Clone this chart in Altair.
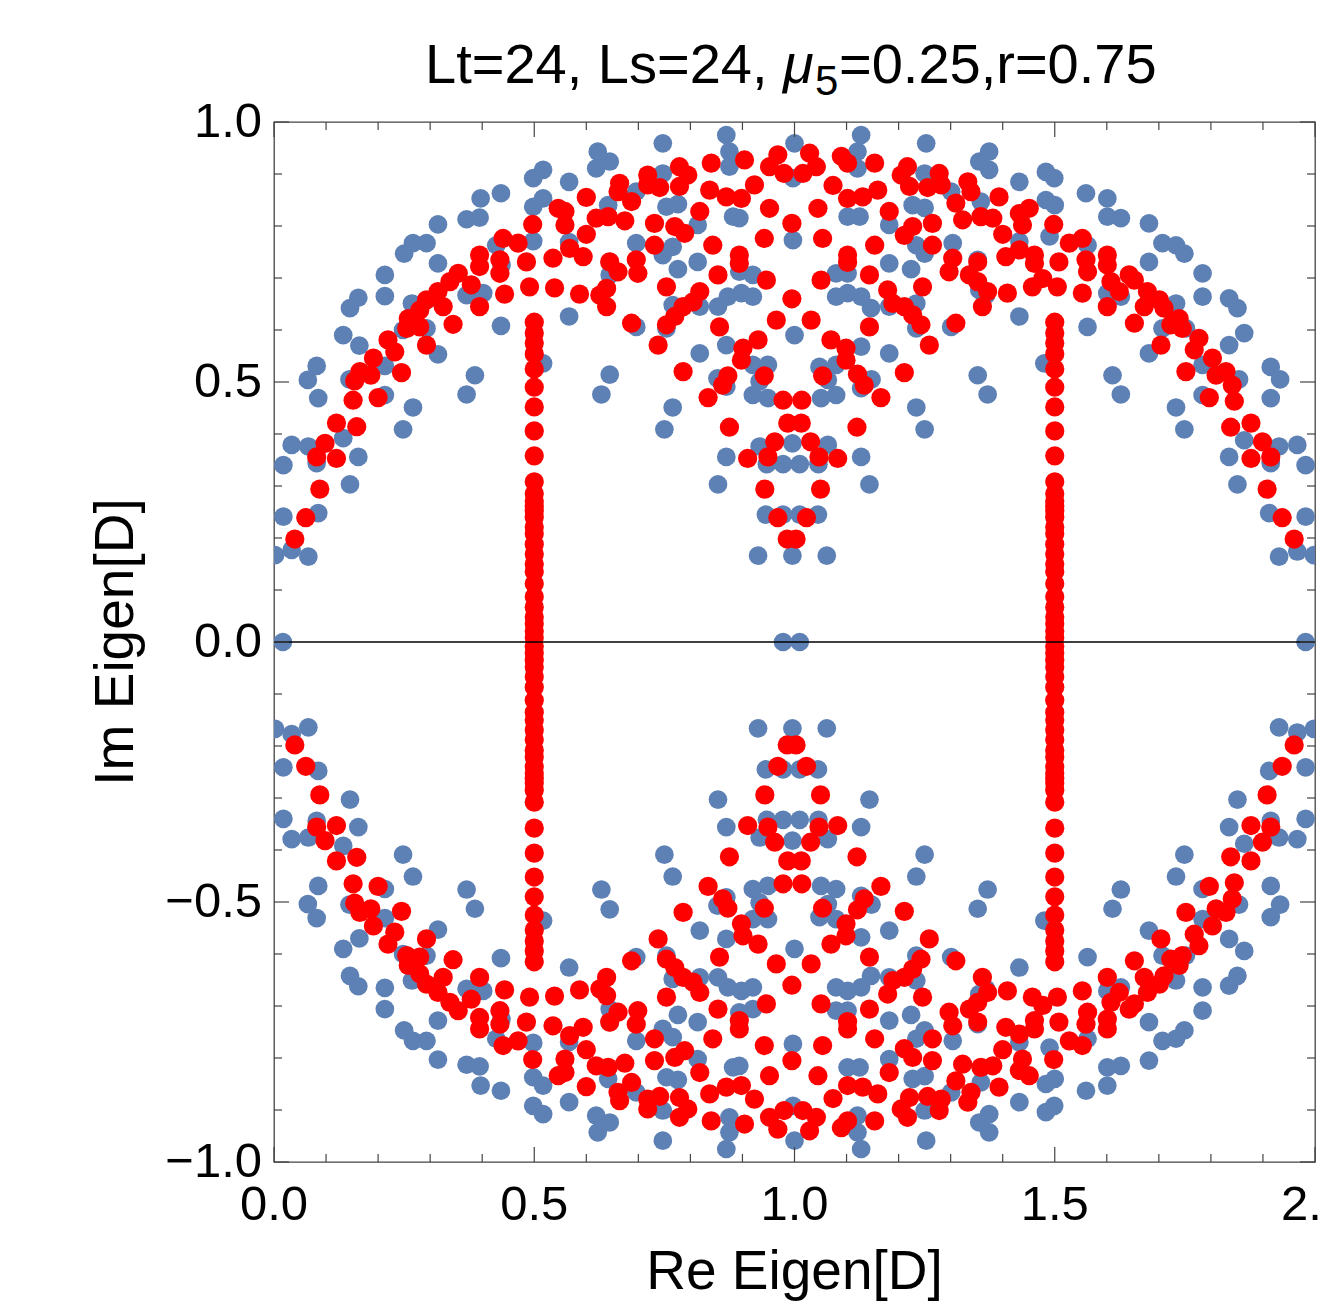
import altair as alt
import pandas as pd

# ---------------- data (upper half, Im >= 0; spectrum is conjugate-symmetric) ----------------
blue_upper = [
    (0.498, 0.892), (0.436, 0.863), (0.397, 0.853), (0.370, 0.813), (0.395, 0.816), (0.498, 0.837),
    (0.315, 0.803), (0.267, 0.767), (0.293, 0.767), (0.250, 0.747), (0.315, 0.728), (0.213, 0.706),
    (0.213, 0.665), (0.162, 0.662), (0.146, 0.642), (0.265, 0.651), (0.370, 0.667), (0.402, 0.671),
    (0.437, 0.725), (0.427, 0.763), (0.133, 0.590), (0.164, 0.570), (0.248, 0.600), (0.293, 0.603),
    (0.315, 0.553), (0.436, 0.608), (0.082, 0.531), (0.065, 0.504), (0.145, 0.505), (0.386, 0.513),
    (0.498, 0.771), (0.213, 0.531), (0.085, 0.469), (0.213, 0.475), (0.267, 0.451), (0.248, 0.409),
    (0.370, 0.476), (0.034, 0.379), (0.066, 0.376), (0.018, 0.340), (0.082, 0.344), (0.133, 0.392),
    (0.162, 0.356), (0.146, 0.303), (0.018, 0.241), (0.085, 0.248), (0.002, 0.167), (0.034, 0.177),
    (0.066, 0.164), (0.017, 0.0),
    (0.869, 0.975), (0.747, 0.959), (0.622, 0.943), (0.645, 0.924), (0.619, 0.911), (0.517, 0.908),
    (1.000, 0.959), (0.875, 0.943), (0.875, 0.914), (0.567, 0.885), (0.747, 0.901), (0.696, 0.866),
    (0.517, 0.853), (0.642, 0.840), (0.754, 0.837), (0.776, 0.842), (0.882, 0.818), (0.894, 0.815),
    (0.814, 0.802), (0.997, 0.773), (0.696, 0.767), (0.766, 0.760), (0.747, 0.744), (0.814, 0.731),
    (0.776, 0.717), (0.645, 0.731), (0.645, 0.706), (0.567, 0.769), (0.567, 0.626), (0.894, 0.712),
    (0.920, 0.706), (0.872, 0.664), (0.898, 0.671), (0.920, 0.664), (0.853, 0.645), (0.766, 0.648),
    (0.818, 0.645), (0.629, 0.667), (0.696, 0.606), (0.754, 0.603), (1.000, 0.590), (0.818, 0.555),
    (0.869, 0.571), (0.645, 0.514), (0.517, 0.536), (0.949, 0.533), (0.920, 0.533), (0.852, 0.507),
    (0.629, 0.476), (0.766, 0.451), (0.750, 0.409), (0.869, 0.491), (0.920, 0.475), (0.949, 0.469),
    (0.933, 0.501), (0.869, 0.356), (0.853, 0.303), (0.933, 0.376), (0.996, 0.382), (1.064, 0.379),
    (0.947, 0.342), (0.978, 0.342), (1.010, 0.342), (1.046, 0.342),
    (0.945, 0.245), (0.978, 0.245), (1.010, 0.245), (1.045, 0.245),
    (0.930, 0.166), (0.996, 0.166), (1.062, 0.166),
    (0.978, 0.0), (1.010, 0.0),
    (1.128, 0.975), (1.253, 0.959), (1.121, 0.943), (1.374, 0.943), (1.355, 0.924), (1.374, 0.908),
    (1.121, 0.911), (1.483, 0.904), (1.499, 0.892), (1.432, 0.885), (1.250, 0.901), (0.997, 0.892),
    (1.301, 0.866), (1.483, 0.850), (1.500, 0.840), (1.358, 0.847), (1.227, 0.840), (1.250, 0.835),
    (1.102, 0.818), (1.125, 0.818), (1.182, 0.802), (1.490, 0.780), (1.234, 0.763), (1.250, 0.747),
    (1.304, 0.767), (1.432, 0.770), (1.182, 0.728), (1.224, 0.717), (1.080, 0.709), (1.102, 0.709),
    (1.352, 0.735), (1.355, 0.677), (1.368, 0.667), (1.080, 0.664), (1.102, 0.671), (1.128, 0.664),
    (1.147, 0.642), (1.182, 0.645), (1.234, 0.651), (1.432, 0.626), (1.301, 0.606), (1.234, 0.603),
    (1.128, 0.568), (1.182, 0.555), (1.048, 0.529), (1.080, 0.533), (1.148, 0.505), (1.352, 0.513),
    (1.480, 0.536),
    (1.064, 0.504), (1.080, 0.475), (1.051, 0.469), (1.128, 0.488), (1.234, 0.451), (1.250, 0.409),
    (1.371, 0.476), (1.128, 0.356), (1.144, 0.303),
    (1.560, 0.863), (1.601, 0.853), (1.601, 0.818), (1.627, 0.815), (1.681, 0.805), (1.707, 0.767),
    (1.733, 0.763), (1.749, 0.747), (1.681, 0.731), (1.563, 0.763), (1.784, 0.709), (1.784, 0.664),
    (1.835, 0.661), (1.851, 0.642), (1.601, 0.671), (1.627, 0.664), (1.733, 0.651), (1.563, 0.606),
    (1.707, 0.603), (1.752, 0.603), (1.864, 0.594), (1.835, 0.571), (1.681, 0.555), (1.784, 0.533),
    (1.915, 0.529), (1.933, 0.505), (1.611, 0.513), (1.854, 0.505),
    (1.627, 0.476), (1.733, 0.451), (1.749, 0.409), (1.784, 0.475), (1.915, 0.469), (1.864, 0.388),
    (1.835, 0.356), (1.851, 0.303), (1.931, 0.376), (1.966, 0.379), (1.915, 0.344), (1.982, 0.340),
    (1.912, 0.248), (1.982, 0.241), (1.931, 0.164), (1.966, 0.174), (1.998, 0.167), (1.982, 0.0),
]

red_upper = [
    (0.497, 0.803), (0.440, 0.776), (0.469, 0.767), (0.395, 0.744), (0.434, 0.735), (0.485, 0.731),
    (0.395, 0.722), (0.434, 0.709), (0.354, 0.709), (0.338, 0.693), (0.379, 0.687), (0.491, 0.683),
    (0.443, 0.669), (0.315, 0.674), (0.293, 0.658), (0.325, 0.645), (0.395, 0.645), (0.280, 0.638),
    (0.258, 0.622), (0.255, 0.603), (0.280, 0.606), (0.344, 0.611), (0.293, 0.571), (0.219, 0.581),
    (0.232, 0.558), (0.191, 0.546), (0.165, 0.520), (0.186, 0.513), (0.245, 0.518), (0.155, 0.502),
    (0.152, 0.465), (0.200, 0.470), (0.120, 0.421), (0.159, 0.414), (0.098, 0.382), (0.082, 0.356),
    (0.120, 0.353), (0.088, 0.294), (0.061, 0.239), (0.040, 0.198),
    (0.840, 0.921), (0.904, 0.927), (0.968, 0.937), (0.980, 0.901), (0.952, 0.914), (0.779, 0.914),
    (0.795, 0.898), (0.718, 0.898), (0.718, 0.879), (0.741, 0.874), (0.779, 0.876), (0.664, 0.882),
    (0.661, 0.866), (0.687, 0.847), (0.600, 0.855), (0.837, 0.869), (0.869, 0.856), (0.898, 0.853),
    (0.923, 0.879), (0.952, 0.834), (0.818, 0.828), (0.546, 0.834), (0.559, 0.828), (0.559, 0.802),
    (0.619, 0.815), (0.642, 0.818), (0.674, 0.810), (0.731, 0.805), (0.770, 0.799), (0.789, 0.786),
    (0.600, 0.784), (0.731, 0.763), (0.995, 0.805), (0.942, 0.776), (0.843, 0.763), (0.568, 0.757),
    (0.536, 0.738), (0.594, 0.741), (0.645, 0.731), (0.696, 0.735), (0.699, 0.709), (0.661, 0.712),
    (0.894, 0.744), (0.894, 0.728), (0.853, 0.706), (0.946, 0.696), (0.754, 0.683), (0.818, 0.674),
    (0.805, 0.654), (0.786, 0.645), (0.770, 0.626), (0.754, 0.610), (0.539, 0.681), (0.587, 0.669),
    (0.639, 0.680), (0.626, 0.667), (0.639, 0.645), (0.995, 0.660), (0.965, 0.619), (0.856, 0.606),
    (0.687, 0.613), (0.738, 0.571), (0.930, 0.581), (0.901, 0.565), (0.898, 0.542), (0.872, 0.512),
    (0.786, 0.520), (0.942, 0.512),
    (0.862, 0.494), (0.834, 0.470), (0.978, 0.465), (1.014, 0.465), (0.875, 0.413), (0.987, 0.421),
    (1.013, 0.421), (0.962, 0.385), (0.949, 0.356), (0.910, 0.353), (0.943, 0.294), (0.968, 0.239),
    (0.986, 0.198), (1.003, 0.198),
    (1.054, 0.512), (1.121, 0.515), (1.134, 0.494), (1.211, 0.518), (1.166, 0.470), (1.120, 0.413),
    (1.031, 0.385), (1.047, 0.356), (1.083, 0.353), (1.050, 0.294), (1.023, 0.239),
    (1.029, 0.940), (1.090, 0.934), (1.102, 0.921), (1.154, 0.921), (1.016, 0.901), (1.042, 0.914),
    (1.217, 0.914), (1.205, 0.898), (1.221, 0.876), (1.278, 0.901), (1.256, 0.874), (1.282, 0.879),
    (1.333, 0.885), (1.339, 0.866), (1.310, 0.844), (1.393, 0.856), (1.074, 0.878), (1.102, 0.853),
    (1.131, 0.856), (1.160, 0.869), (1.045, 0.834), (1.182, 0.828), (1.323, 0.812), (1.358, 0.818),
    (1.381, 0.815), (1.400, 0.784), (1.432, 0.824), (1.451, 0.834), (1.438, 0.802), (1.498, 0.803),
    (1.211, 0.782), (1.227, 0.799), (1.265, 0.805), (1.265, 0.763), (1.054, 0.776), (1.154, 0.763),
    (1.102, 0.744), (1.102, 0.730), (1.144, 0.706), (1.051, 0.696), (1.304, 0.738), (1.297, 0.712),
    (1.352, 0.731), (1.336, 0.706), (1.352, 0.693), (1.406, 0.741), (1.432, 0.754), (1.461, 0.744),
    (1.461, 0.728), (1.508, 0.731), (1.477, 0.699), (1.457, 0.683), (1.409, 0.671), (1.371, 0.674),
    (1.361, 0.645), (1.246, 0.683), (1.179, 0.677), (1.189, 0.651), (1.211, 0.645), (1.227, 0.629),
    (1.243, 0.610), (1.259, 0.571), (1.310, 0.613), (1.144, 0.606), (1.032, 0.619), (1.070, 0.581),
    (1.099, 0.565), (1.099, 0.542),
    (1.528, 0.767), (1.553, 0.776), (1.560, 0.735), (1.601, 0.744), (1.563, 0.712), (1.601, 0.725),
    (1.505, 0.683), (1.553, 0.671), (1.601, 0.645), (1.608, 0.693), (1.624, 0.674), (1.643, 0.706),
    (1.653, 0.696), (1.678, 0.674), (1.672, 0.645), (1.701, 0.658), (1.710, 0.642), (1.653, 0.613),
    (1.739, 0.622), (1.723, 0.610), (1.745, 0.603), (1.704, 0.571), (1.777, 0.584), (1.768, 0.562),
    (1.803, 0.546), (1.752, 0.520), (1.810, 0.513), (1.829, 0.520),
    (1.841, 0.494), (1.797, 0.470), (1.845, 0.463), (1.838, 0.413), (1.877, 0.421), (1.899, 0.385),
    (1.877, 0.353), (1.915, 0.356), (1.908, 0.294), (1.937, 0.239), (1.960, 0.198),
]

# the two vertical red lines of eigenvalues
red_line_re = [0.5, 1.5]
red_line_im = [0.615, 0.594, 0.575, 0.554, 0.525, 0.490, 0.452, 0.406, 0.358, 0.308, 0.285, 0.271,
               0.262, 0.252, 0.240, 0.221, 0.208, 0.188, 0.169, 0.150, 0.135, 0.112, 0.087, 0.067,
               0.048, 0.035, 0.021, 0.008]

x_major = [0.0, 0.5, 1.0, 1.5, 2.0]
x_minor = [0.1, 0.2, 0.3, 0.4, 0.6, 0.7, 0.8, 0.9, 1.1, 1.2, 1.3, 1.4, 1.6, 1.7, 1.8, 1.9]
y_major = [-1.0, -0.5, 0.0, 0.5, 1.0]
y_minor = [-0.9, -0.8, -0.7, -0.6, -0.4, -0.3, -0.2, -0.1, 0.1, 0.2, 0.3, 0.4, 0.6, 0.7, 0.8, 0.9]
zero_line = [0.0]

title_parts = ["Lt=24, Ls=24,", "\u03bc", "5", "=0.25,r=0.75"]
x_title = "Re Eigen[D]"
y_title = "Im Eigen[D]"

# ---------------- build tables (add complex conjugates) ----------------
def with_conjugates(pairs):
    rows = []
    for re_, im_ in pairs:
        rows.append({"re": re_, "im": im_})
        if im_ != 0:
            rows.append({"re": re_, "im": -im_})
    return pd.DataFrame(rows)

red_line_pairs = [(r, i) for r in red_line_re for i in red_line_im]
df_blue = with_conjugates(blue_upper)
df_red = with_conjugates(red_upper + red_line_pairs)

W, H = 1041, 1040
FONT = "Liberation Sans"
FRAME = "#444444"

xs = alt.Scale(domain=[0, 2], nice=False, zero=False)
ys = alt.Scale(domain=[-1, 1], nice=False, zero=False)

blue = alt.Chart(df_blue).mark_circle(size=350, opacity=1, color="#5E81B5", clip=True).encode(
    x=alt.X("re:Q", scale=xs, axis=None),
    y=alt.Y("im:Q", scale=ys, axis=None),
)
red = alt.Chart(df_red).mark_circle(size=370, opacity=1, color="#FF0000", clip=True).encode(
    x=alt.X("re:Q", scale=xs, axis=None),
    y=alt.Y("im:Q", scale=ys, axis=None),
)
zero = alt.Chart(pd.DataFrame({"z": zero_line})).mark_rule(color="black", strokeWidth=1.4).encode(
    y=alt.Y("z:Q", scale=ys, axis=None)
)

def x_ticks(vals, length):
    d = pd.DataFrame({"t": vals})
    base = alt.Chart(d).mark_rule(color=FRAME, strokeWidth=1.2)
    bottom = base.encode(x=alt.X("t:Q", scale=xs, axis=None), y=alt.value(H), y2=alt.value(H - length))
    top = base.encode(x=alt.X("t:Q", scale=xs, axis=None), y=alt.value(0), y2=alt.value(length))
    return [bottom, top]

def y_ticks(vals, length):
    d = pd.DataFrame({"t": vals})
    base = alt.Chart(d).mark_rule(color=FRAME, strokeWidth=1.2)
    left = base.encode(y=alt.Y("t:Q", scale=ys, axis=None), x=alt.value(0), x2=alt.value(length))
    right = base.encode(y=alt.Y("t:Q", scale=ys, axis=None), x=alt.value(W), x2=alt.value(W - length))
    return [left, right]

ticks = x_ticks(x_major, 15) + x_ticks(x_minor, 8) + y_ticks(y_major, 15) + y_ticks(y_minor, 8)

# tick labels (drawn through the scales)
x_labels = alt.Chart(pd.DataFrame({"v": x_major})).mark_text(
    font=FONT, fontSize=49, align="center", baseline="alphabetic", color="black"
).encode(x=alt.X("v:Q", scale=xs, axis=None), y=alt.value(H + 58),
         text=alt.Text("v:Q", format=".1f"))
y_labels = alt.Chart(pd.DataFrame({"v": y_major})).mark_text(
    font=FONT, fontSize=49, align="right", baseline="middle", color="black"
).encode(y=alt.Y("v:Q", scale=ys, axis=None), x=alt.value(-12),
         text=alt.Text("v:Q", format=".1f"))

one = pd.DataFrame({"a": [0]})
xt = alt.Chart(one).mark_text(text=x_title, font=FONT, fontSize=55, align="center",
                              baseline="alphabetic", color="black").encode(x=alt.value(W / 2), y=alt.value(H + 127))
yt = alt.Chart(one).mark_text(text=y_title, font=FONT, fontSize=55, align="center", angle=270,
                              baseline="alphabetic", color="black").encode(x=alt.value(-141), y=alt.value(H / 2))

t1 = alt.Chart(one).mark_text(text=title_parts[0], font=FONT, fontSize=56, align="left",
                              baseline="alphabetic", color="black").encode(x=alt.value(151), y=alt.value(-39))
t2 = alt.Chart(one).mark_text(text=title_parts[1], font=FONT, fontSize=56, fontStyle="italic", align="left",
                              baseline="alphabetic", color="black").encode(x=alt.value(509), y=alt.value(-39))
t3 = alt.Chart(one).mark_text(text=title_parts[2], font=FONT, fontSize=42, align="left",
                              baseline="alphabetic", color="black").encode(x=alt.value(541), y=alt.value(-27))
t4 = alt.Chart(one).mark_text(text=title_parts[3], font=FONT, fontSize=56, align="left",
                              baseline="alphabetic", color="black").encode(x=alt.value(565), y=alt.value(-39))

chart = alt.layer(blue, red, zero, *ticks, x_labels, y_labels, xt, yt, t1, t2, t3, t4).properties(
    width=W, height=H,
    padding={"left": 266, "top": 114, "right": 7, "bottom": 140},
    autosize=alt.AutoSizeParams(type="none"),
    background="white",
).configure_view(stroke=FRAME, strokeWidth=1.3)

chart.save("out.html", embed_options={"renderer": "svg", "actions": False})
